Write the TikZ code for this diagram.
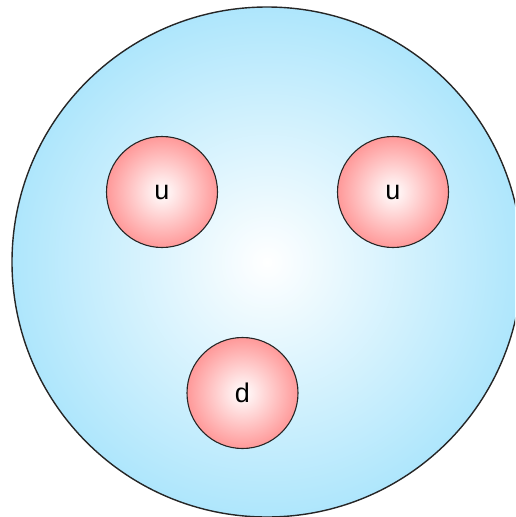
\documentclass[tikz,border=0pt]{standalone}
\usepackage{fontspec}
\setmainfont{Liberation Sans}
\definecolor{protonblue}{HTML}{AEE6FC}
\definecolor{quarkred}{HTML}{FF9999}
\begin{document}
\begin{tikzpicture}[x=1pt,y=-1pt,
  proton/.style={circle,draw=black!85,line width=1.4pt,inner color=white,outer color=protonblue},
  quark/.style={circle,draw=black!85,line width=1.1pt,inner color=white,outer color=quarkred,
    minimum size=111pt,inner sep=0pt,font=\fontsize{27}{30}\selectfont}]
\useasboundingbox (0,0) rectangle (515,517);
\begin{scope}
\clip (0,0) rectangle (515,517);
\node[proton,minimum size=510pt,inner sep=0pt] (p) at (267,262) {};
\end{scope}
\node[quark] (u1) at (162,192) {u};
\node[quark] (u2) at (393,192) {u};
\node[quark] (d) at (242.5,393) {d};
\end{tikzpicture}
\end{document}
